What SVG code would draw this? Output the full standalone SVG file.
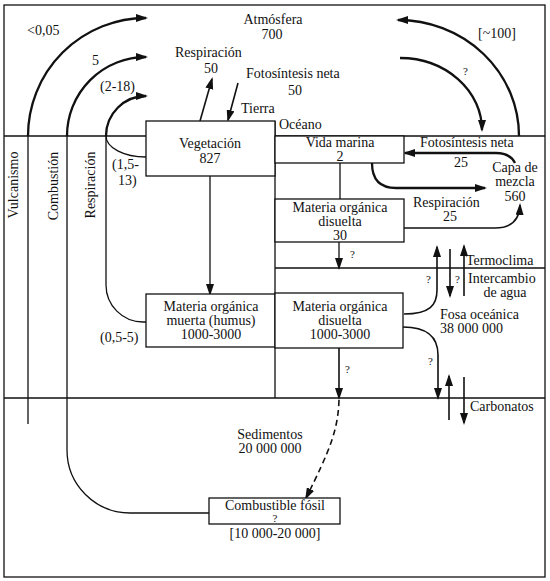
<svg xmlns="http://www.w3.org/2000/svg" width="550" height="581" viewBox="0 0 550 581">
<defs>
<style>
text{font-family:"Liberation Serif","Times New Roman",serif;font-size:14px;fill:#111}
.m{text-anchor:middle}
.q{font-size:11px}
.box{fill:#fff;stroke:#111;stroke-width:1.3}
.ln{fill:none;stroke:#111;stroke-width:1.3}
.th{fill:none;stroke:#111;stroke-width:2.3}
.md{fill:none;stroke:#111;stroke-width:1.6}
.ar{marker-end:url(#ah)}
</style>
<marker id="ah" markerUnits="userSpaceOnUse" markerWidth="12" markerHeight="8" refX="10" refY="4" orient="auto">
<path d="M0,0 L12,4 L0,8 z" fill="#111"/>
</marker>
</defs>
<rect width="550" height="581" fill="#fff"/>
<g id="frame">
<rect x="4" y="5" width="541" height="572" class="ln"/>
<path class="ln" d="M4,136 H146 M275,136 H545 M275,121 V398 M275,268 H545 M4,398 H545"/>
</g>
<g id="connectors">
<path class="th ar" d="M28,136 A118,118 0 0 1 146,18"/>
<path class="th ar" d="M67,136 A79,79 0 0 1 146,57"/>
<path class="th ar" d="M106,136 A40,40 0 0 1 146,96"/>
<path class="th ar" d="M519,136 A121,116 0 0 0 398,20"/>
<path class="th ar" d="M400,58 A82,72 0 0 1 482,130"/>
<path class="md ar" d="M200,121 L212,79"/>
<path class="md ar" d="M238,83 L228,120"/>
<path class="ln" d="M28,136 V424"/>
<path class="ln" d="M67,136 V450 A63,63 0 0 0 130,513 H209"/>
<path class="ln" d="M106,136 V285 A37,37 0 0 0 143,322 H146"/>
<path class="ln" d="M106,136 A40,21 0 0 0 146,157"/>
<path class="ln ar" d="M210,176 V294"/>
<path class="ln" d="M340,163 V199"/>
<path class="ln ar" d="M339,242 V268"/>
<path class="th ar" d="M515,163 Q510,153 496,153 H405"/>
<path class="th ar" d="M372,163 Q372,188 396,188 H485"/>
<path class="md ar" d="M404,228 H495 Q519,228 520,205"/>
<path class="md ar" d="M404,314 C430,314 437,305 437,290 V247"/>
<path class="md ar" d="M450,249 V296"/>
<path class="md ar" d="M464,296 V246"/>
<path class="md ar" d="M403,327 Q438,327 438,355 V398"/>
<path class="md ar" d="M339,348 V398"/>
<path class="md ar" d="M449,420 V376"/>
<path class="md ar" d="M464,377 V423"/>
<path class="md ar" d="M339,400 C338,430 330,450 306,498" stroke-dasharray="6,4"/>
</g>
<g id="atmosfera"><text x="273" y="24" class="m">Atmósfera</text><text x="272" y="39" class="m">700</text></g>
<g id="labels-top">
<text x="27" y="35">&lt;0,05</text>
<text x="92" y="65">5</text>
<text x="100" y="91">(2-18)</text>
<text x="175" y="57">Respiración</text>
<text x="211" y="73" class="m">50</text>
<text x="246" y="78">Fotosíntesis neta</text>
<text x="295" y="95" class="m">50</text>
<text x="241" y="113">Tierra</text>
<text x="279" y="129">Océano</text>
<text x="478" y="38">[~100]</text>
<text x="463" y="75" class="q">?</text>
</g>
<g id="labels-side">
<text transform="translate(18,185) rotate(-90)" class="m">Vulcanismo</text>
<text transform="translate(58,186) rotate(-90)" class="m">Combustión</text>
<text transform="translate(95,185) rotate(-90)" class="m">Respiración</text>
<text x="112" y="169">(1,5-</text>
<text x="118" y="185">13)</text>
<text x="100" y="342">(0,5-5)</text>
</g>
<g id="vegetacion"><rect class="box" x="146" y="121" width="129" height="55"/><text x="210" y="148" class="m">Vegetación</text><text x="210" y="163" class="m">827</text></g>
<g id="vida-marina"><rect class="box" x="275" y="136" width="129" height="27"/><text x="340" y="147" class="m">Vida marina</text><text x="340" y="161" class="m">2</text></g>
<g id="mod-30"><rect class="box" x="275" y="199" width="129" height="43"/><text x="340" y="212" class="m">Materia orgánica</text><text x="340" y="226" class="m">disuelta</text><text x="340" y="240" class="m">30</text></g>
<g id="capa-mezcla"><text x="515" y="172" class="m">Capa de</text><text x="515" y="186" class="m">mezcla</text><text x="515" y="201" class="m">560</text></g>
<g id="labels-ocean">
<text x="420" y="147">Fotosíntesis neta</text>
<text x="461" y="167" class="m">25</text>
<text x="413" y="207">Respiración</text>
<text x="450" y="221" class="m">25</text>
<text x="350" y="258" class="q">?</text>
<text x="466" y="265">Termoclima</text>
<text x="426" y="283" class="q">?</text>
<text x="455" y="283" class="q">?</text>
<text x="468" y="283">Intercambio</text>
<text x="505" y="297" class="m">de agua</text>
<text x="428" y="365" class="q">?</text>
<text x="345" y="373" class="q">?</text>
<text x="470" y="411">Carbonatos</text>
</g>
<g id="fosa-oceanica"><text x="440" y="319">Fosa oceánica</text><text x="440" y="333">38 000 000</text></g>
<g id="humus"><rect class="box" x="146" y="294" width="129" height="53"/><text x="211" y="311" class="m">Materia orgánica</text><text x="211" y="325" class="m">muerta (humus)</text><text x="211" y="339" class="m">1000-3000</text></g>
<g id="mod-profunda"><rect class="box" x="275" y="293" width="128" height="55"/><text x="340" y="311" class="m">Materia orgánica</text><text x="340" y="325" class="m">disuelta</text><text x="340" y="339" class="m">1000-3000</text></g>
<g id="sedimentos"><text x="270" y="439" class="m">Sedimentos</text><text x="270" y="453" class="m">20 000 000</text></g>
<g id="combustible-fosil"><rect class="box" x="209" y="498" width="131" height="26"/><text x="275" y="510" class="m">Combustible fósil</text><text x="275" y="522" class="m q">?</text><text x="275" y="538" class="m">[10 000-20 000]</text></g>
</svg>
